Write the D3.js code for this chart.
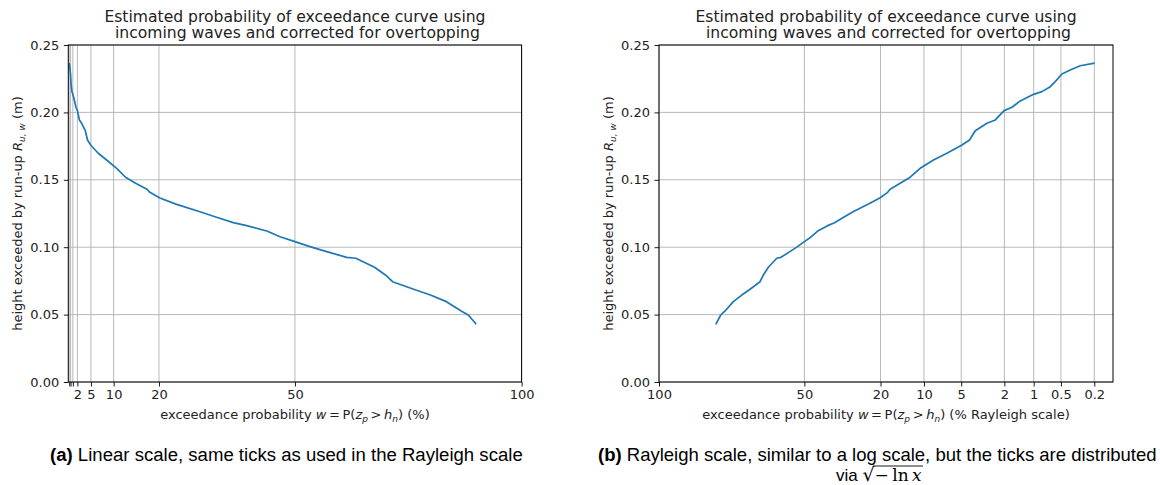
<!DOCTYPE html>
<html><head><meta charset="utf-8">
<script src="https://cdn.jsdelivr.net/npm/d3@7"></script>
<style>body{margin:0;background:#fff} svg{display:block}</style>
</head><body><svg id="c" width="1160" height="485"></svg>
<script>
// ---- data (exceedance probability in %, height in m) ----
const probability = [0.198, 0.297, 0.390, 0.487, 0.580, 0.660, 0.815, 1.004, 1.385, 1.68, 2.01, 2.45, 2.94, 3.76, 4.23, 4.97, 6.60, 8.45, 10.68, 12.63, 14.85, 17.34, 18.0, 20.2, 23.9, 29.05, 32.7, 36.4, 39.35, 43.8, 46.7, 50.0, 53.3, 57.0, 61.4, 63.45, 67.55, 69.96, 71.53, 76.19, 79.88, 83.42, 86.67, 88.25, 89.98];
const height = [0.2366, 0.2346, 0.2315, 0.2285, 0.2228, 0.2191, 0.2154, 0.2134, 0.2085, 0.2038, 0.2013, 0.1944, 0.1919, 0.1864, 0.1795, 0.1756, 0.1697, 0.1647, 0.1585, 0.1519, 0.1474, 0.1430, 0.1407, 0.1365, 0.1318, 0.1263, 0.1222, 0.1182, 0.1160, 0.1120, 0.1078, 0.1041, 0.1004, 0.0967, 0.0925, 0.0918, 0.0851, 0.0794, 0.0744, 0.0688, 0.0645, 0.0596, 0.0527, 0.0497, 0.0428];
const yTicks = [0, 0.05, 0.10, 0.15, 0.20, 0.25];
const xTicks = [0.2, 0.5, 1, 2, 5, 10, 20, 50, 100];
const xTickLabelsLinear = ["", "", "", "2", "5", "10", "20", "50", "100"];
const xTickLabelsRayleigh = ["0.2", "0.5", "1", "2", "5", "10", "20", "50", "100"];
const titleLines = ["Estimated probability of exceedance curve using", " incoming waves and corrected for overtopping"];

const svg = d3.select("#c");
const FONT = "DejaVu Sans, sans-serif";
const data = probability.map((p, i) => ({p, h: height[i]}));
const rayleigh = p => Math.sqrt(-Math.log(p / 100));

const plotTop = 45, plotBottom = 382;
const y = d3.scaleLinear().domain([0, 0.25]).range([plotBottom, plotTop]);

function panel(opts) {
  const g = svg.append("g");
  const x = opts.x;
  const [x0, x1] = x.range();
  const tv = xTicks.map(opts.t);
  // grid
  g.append("g").selectAll("line").data(tv).join("line")
    .attr("x1", d => x(d)).attr("x2", d => x(d)).attr("y1", plotTop).attr("y2", plotBottom)
    .attr("stroke", "#b0b0b0").attr("stroke-width", 0.9);
  g.append("g").selectAll("line").data(yTicks).join("line")
    .attr("x1", x0).attr("x2", x1).attr("y1", d => y(d)).attr("y2", d => y(d))
    .attr("stroke", "#b0b0b0").attr("stroke-width", 0.9);
  // line
  g.append("path").datum(data)
    .attr("fill", "none").attr("stroke", "#1f77b4").attr("stroke-width", 1.7)
    .attr("stroke-linejoin", "round")
    .attr("d", d3.line().x(d => x(opts.t(d.p))).y(d => y(d.h)));
  // frame
  g.append("rect").attr("x", x0).attr("y", plotTop).attr("width", x1 - x0).attr("height", plotBottom - plotTop)
    .attr("fill", "none").attr("stroke", "#000").attr("stroke-width", 1);
  // axes
  const xa = g.append("g").attr("transform", `translate(0,${plotBottom})`)
    .call(d3.axisBottom(x).tickValues(tv).tickSize(4.5).tickSizeOuter(0).tickPadding(3.5)
      .tickFormat((d, i) => opts.labels[i]));
  const ya = g.append("g").attr("transform", `translate(${x0},0)`)
    .call(d3.axisLeft(y).tickValues(yTicks).tickSize(4.5).tickSizeOuter(0).tickPadding(4.5)
      .tickFormat(d3.format(".2f")));
  [xa, ya].forEach(a => {
    a.select(".domain").remove();
    a.selectAll("line").attr("stroke", "#000").attr("stroke-width", 0.9);
    a.selectAll("text").attr("font-family", FONT).attr("font-size", 13).attr("fill", "#222");
  });
  const cx = (x0 + x1) / 2;
  // title
  titleLines.forEach((t, i) => {
    g.append("text").attr("x", cx).attr("y", 22 + i * 16).attr("text-anchor", "middle")
      .attr("font-family", FONT).attr("font-size", 15.6).attr("fill", "#222")
      .attr("xml:space", "preserve").text(t);
  });
  // x label
  const xl = g.append("text").attr("x", cx).attr("y", 419).attr("text-anchor", "middle")
    .attr("font-family", FONT).attr("font-size", 13).attr("fill", "#222");
  xl.append("tspan").text("exceedance probability ");
  xl.append("tspan").attr("font-style", "italic").text("w");
  xl.append("tspan").text("\u2009=\u2009P(");
  xl.append("tspan").attr("font-style", "italic").text("z");
  xl.append("tspan").attr("font-style", "italic").attr("font-size", 9).attr("dy", 2.5).text("p");
  xl.append("tspan").attr("dy", -2.5).text("\u2009>\u2009");
  xl.append("tspan").attr("font-style", "italic").text("h");
  xl.append("tspan").attr("font-style", "italic").attr("font-size", 9).attr("dy", 2.5).text("n");
  xl.append("tspan").attr("dy", -2.5).text(") " + opts.unit);
  // y label
  const yl = g.append("text").attr("transform", `translate(${x0 - 46},${(plotTop + plotBottom) / 2}) rotate(-90)`)
    .attr("text-anchor", "middle").attr("font-family", FONT).attr("font-size", 13).attr("fill", "#222");
  yl.append("tspan").text("height exceeded by run-up ");
  yl.append("tspan").attr("font-style", "italic").text("R");
  yl.append("tspan").attr("font-style", "italic").attr("font-size", 9).attr("dy", 2.5).text("u, w");
  yl.append("tspan").attr("dy", -2.5).text(" (m)");
}

panel({x: d3.scaleLinear().domain([0, 100]).range([68.3, 521.6]), t: p => p,
       labels: xTickLabelsLinear, unit: "(%)"});
panel({x: d3.scaleLinear().domain([0, 2.6]).range([659, 1113]), t: rayleigh,
       labels: xTickLabelsRayleigh, unit: "(% Rayleigh scale)"});

// captions
const CAP = "Liberation Sans, Arial, sans-serif";
function caption(xc, yb, bold, rest, width) {
  const t = svg.append("text").attr("y", yb).attr("font-family", CAP).attr("font-size", 18).attr("fill", "#000");
  t.append("tspan").attr("font-weight", "bold").text(bold);
  t.append("tspan").text(" " + rest);
  const w = t.node().getComputedTextLength();
  const s = width / w;
  t.attr("transform", `translate(${xc - width / 2},0) scale(${s},1)`);
  return t;
}
caption(286.5, 461, "(a)", "Linear scale, same ticks as used in the Rayleigh scale", 473);
caption(877.5, 461, "(b)", "Rayleigh scale, similar to a log scale, but the ticks are distributed", 559);
// second line of (b): via sqrt(-ln x)
const l2 = svg.append("text").attr("y", 481).attr("font-family", CAP).attr("font-size", 17).attr("fill", "#000");
l2.append("tspan").text("via ");
l2.append("tspan").attr("font-family", "DejaVu Serif, serif").attr("font-size", 19).text("\u221A");
l2.append("tspan").attr("font-family", "DejaVu Serif, serif").attr("font-size", 17).text("\u2212\u2009ln\u2009");
l2.append("tspan").attr("font-family", "DejaVu Serif, serif").attr("font-style", "italic").attr("font-size", 17).text("x");
const bb = l2.node().getBBox();
l2.attr("x", 879 - bb.width / 2);
const bb2 = l2.node().getBBox();
const radStart = l2.node().getStartPositionOfChar(5).x;
svg.append("line").attr("x1", radStart - 1).attr("x2", bb2.x + bb2.width + 1)
  .attr("y1", 466).attr("y2", 466).attr("stroke", "#000").attr("stroke-width", 0.9);
</script></body></html>
